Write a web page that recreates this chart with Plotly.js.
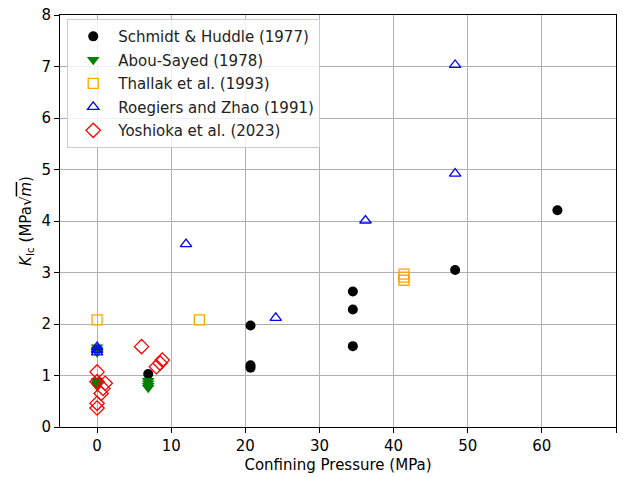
<!DOCTYPE html>
<html>
<head>
<meta charset="utf-8">
<script src="https://cdn.plot.ly/plotly-3.0.1.min.js"></script>
<style>body{margin:0;padding:0;background:#fff;}</style>
</head>
<body>
<div id="chart" style="width:623px;height:477px;"></div>
<script>
// Schmidt & Huddle (1977)
const shX = [0, 6.9, 20.7, 20.7, 20.7, 34.5, 34.5, 34.5, 48.3, 62.1];
const shY = [0.85, 1.03, 1.97, 1.2, 1.15, 2.63, 2.28, 1.57, 3.05, 4.21];
// Abou-Sayed (1978)
const asX = [0, 0, 0, 0, 0, 0, 6.9, 6.9, 6.9, 6.9];
const asY = [1.55, 1.5, 1.45, 0.9, 0.85, 0.8, 0.9, 0.85, 0.8, 0.76];
// Thallak et al. (1993)
const thX = [0, 13.8, 41.4, 41.4, 41.4];
const thY = [2.08, 2.08, 2.97, 2.91, 2.85];
// Roegiers and Zhao (1991)
const rzX = [0, 0, 0, 12.0, 24.1, 36.2, 48.3, 48.3];
const rzY = [1.55, 1.5, 1.45, 3.55, 2.12, 4.01, 7.03, 4.92];
// Yoshioka et al. (2023)
const yoX = [0, 0, 0, 0, 0.55, 0.8, 1.1, 6.0, 8.0, 8.5, 8.8];
const yoY = [1.07, 0.88, 0.46, 0.37, 0.65, 0.75, 0.85, 1.56, 1.17, 1.24, 1.3];

const names = ["Schmidt & Huddle (1977)", "Abou-Sayed (1978)", "Thallak et al. (1993)", "Roegiers and Zhao (1991)", "Yoshioka et al. (2023)"];

const traces = [
  {x: shX, y: shY, name: names[0], legendgroup: "g1", mode: "markers", type: "scatter",
   marker: {symbol: "circle", size: 10, color: "black"}},
  {x: asX, y: asY, name: names[1], legendgroup: "g2", mode: "markers", type: "scatter",
   marker: {symbol: "triangle-down", size: 11, color: "green"}},
  {x: thX, y: thY, name: names[2], legendgroup: "g3", mode: "markers", type: "scatter",
   marker: {symbol: "square-open", size: 10, color: "orange", line: {width: 1.3}}},
  {x: rzX, y: rzY, name: names[3], legendgroup: "g4", mode: "markers", type: "scatter",
   marker: {symbol: "triangle-up-open", size: 10, color: "blue", line: {width: 1.3}}},
  {x: yoX, y: yoY, name: names[4], legendgroup: "g5", mode: "markers", type: "scatter",
   marker: {symbol: "diamond-open", size: 11, color: "red", line: {width: 1.3}}}
];

const axisCommon = {
  showgrid: true, gridcolor: "#b0b0b0", gridwidth: 1,
  zeroline: false, showline: true, linecolor: "black", linewidth: 1, mirror: true,
  ticks: "outside", ticklen: 5, tickcolor: "black",
  tickfont: {family: "DejaVu Sans", size: 15, color: "black"}
};

const layout = {
  width: 623, height: 477,
  margin: {l: 60, r: 7, t: 15, b: 50},
  paper_bgcolor: "white", plot_bgcolor: "white",
  font: {family: "DejaVu Sans", size: 15, color: "black"},
  showlegend: true,
  legend: {x: 0.013, y: 0.99, xanchor: "left", yanchor: "top",
    traceorder: "grouped", tracegroupgap: 1, itemwidth: 40,
    bgcolor: "rgba(255,255,255,0.8)", bordercolor: "#cccccc", borderwidth: 1,
    font: {family: "DejaVu Sans", size: 15, color: "#222"}},
  xaxis: Object.assign({}, axisCommon, {
    range: [-5, 70], tickvals: [0,10,20,30,40,50,60,70],
    title: {text: "Confining Pressure (MPa)", font: {family: "DejaVu Sans", size: 15}, standoff: 5}
  }),
  yaxis: Object.assign({}, axisCommon, {
    range: [0, 8], tickvals: [0,1,2,3,4,5,6,7,8],
    title: {text: "<i>K</i><sub>Ic</sub> (MPa√<span style=\"text-decoration:overline\"><i>m</i></span>)", font: {family: "DejaVu Sans", size: 15}, standoff: 6}
  })
};

Plotly.newPlot("chart", traces, layout, {displayModeBar: false, staticPlot: true});
</script>
</body>
</html>
